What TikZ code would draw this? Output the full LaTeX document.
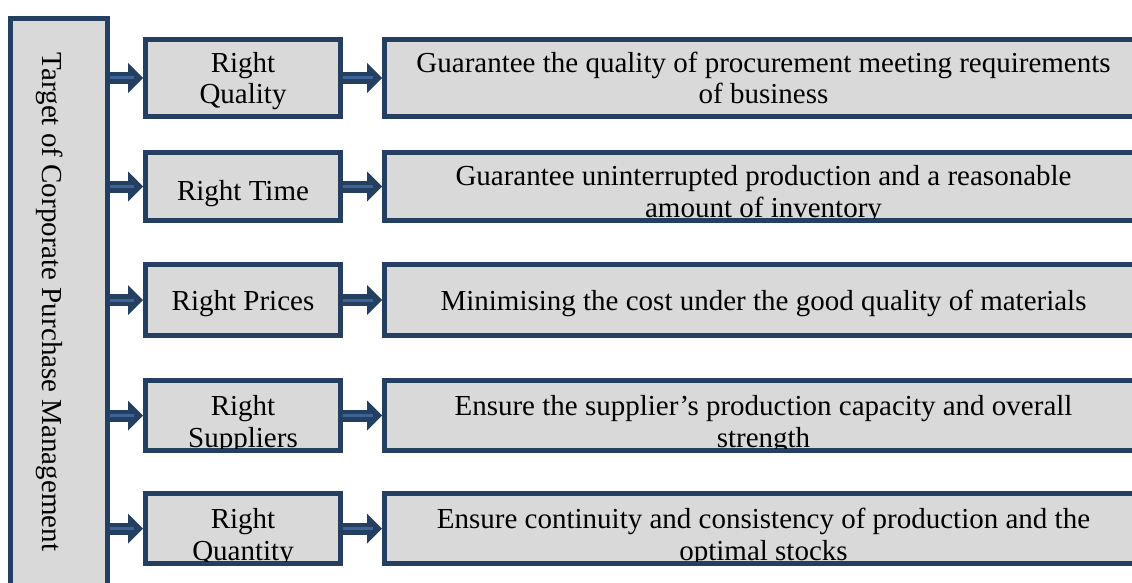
\documentclass[tikz,border=0pt]{standalone}
\usepackage{fontspec}
\setmainfont{Liberation Serif}
\usetikzlibrary{arrows.meta}
\definecolor{navy}{HTML}{243F60}
\definecolor{stripe}{HTML}{3C6496}
\definecolor{panel}{HTML}{D9D9D9}
\tikzset{
  panelbox/.style={draw=navy, fill=panel, line width=5pt, inner sep=0pt},
  boxtext/.style={font=\fontsize{29}{32}\selectfont, align=center, inner sep=0pt, anchor=base},
  shaft/.style={draw=navy, line width=12pt, -{Triangle[length=15pt,width=30pt,line width=0pt]}},
  core/.style={draw=stripe, line width=3pt, shorten >=9pt},
}
% text of a box (#2 = baseline of its last line), cut off at the inner edge of the border
\newcommand{\boxedtext}[3]{%
  \begin{scope}
    \clip ([shift={(5,-5)}]#1.south west) rectangle ([shift={(-5,5)}]#1.north east);
    \node[boxtext] (#1t) at (#1.center |- 0,#2) {#3};
  \end{scope}}
\begin{document}
\begin{tikzpicture}[x=1pt,y=-1pt]
\clip (0,0) rectangle (1132,583);

% main heading bar
\node[panelbox, minimum width=97pt, minimum height=621.5pt] (target) at (59,329.25) {};
\node[boxtext, rotate=-90] (targettext) at (42,302) {Target of Corporate Purchase Management};

% criteria (middle column) and their explanations (right column)
\node[panelbox, minimum width=195pt, minimum height=77pt] (m1) at (243,78) {};
\node[panelbox, minimum width=758pt, minimum height=77pt] (r1) at (763.5,78) {};
\node[panelbox, minimum width=195pt, minimum height=68pt] (m2) at (243,186.5) {};
\node[panelbox, minimum width=758pt, minimum height=68pt] (r2) at (763.5,186.5) {};
\node[panelbox, minimum width=195pt, minimum height=71pt] (m3) at (243,300) {};
\node[panelbox, minimum width=758pt, minimum height=71pt] (r3) at (763.5,300) {};
\node[panelbox, minimum width=195pt, minimum height=70pt] (m4) at (243,415.5) {};
\node[panelbox, minimum width=758pt, minimum height=70pt] (r4) at (763.5,415.5) {};
\node[panelbox, minimum width=195pt, minimum height=70pt] (m5) at (243,528.5) {};
\node[panelbox, minimum width=758pt, minimum height=70pt] (r5) at (763.5,528.5) {};

\boxedtext{m1}{104}{Right\\Quality}
\boxedtext{r1}{104}{Guarantee the quality of procurement meeting requirements\\of business}
\boxedtext{m2}{200}{Right Time}
\boxedtext{r2}{217}{Guarantee uninterrupted production and a reasonable\\amount of inventory}
\boxedtext{m3}{310}{Right Prices}
\boxedtext{r3}{310}{Minimising the cost under the good quality of materials}
\boxedtext{m4}{447}{Right\\Suppliers}
\boxedtext{r4}{447}{Ensure the supplier’s production capacity and overall\\strength}
\boxedtext{m5}{560}{Right\\Quantity}
\boxedtext{r5}{560}{Ensure continuity and consistency of production and the\\optimal stocks}

% block arrows
\foreach \r in {1,...,5}{
  \draw[shaft] (target.east |- m\r.west) -- (m\r.west);
  \draw[core]  (target.east |- m\r.west) -- (m\r.west);
  \draw[shaft] (m\r.east) -- (r\r.west);
  \draw[core]  (m\r.east) -- (r\r.west);
}
\end{tikzpicture}
\end{document}
